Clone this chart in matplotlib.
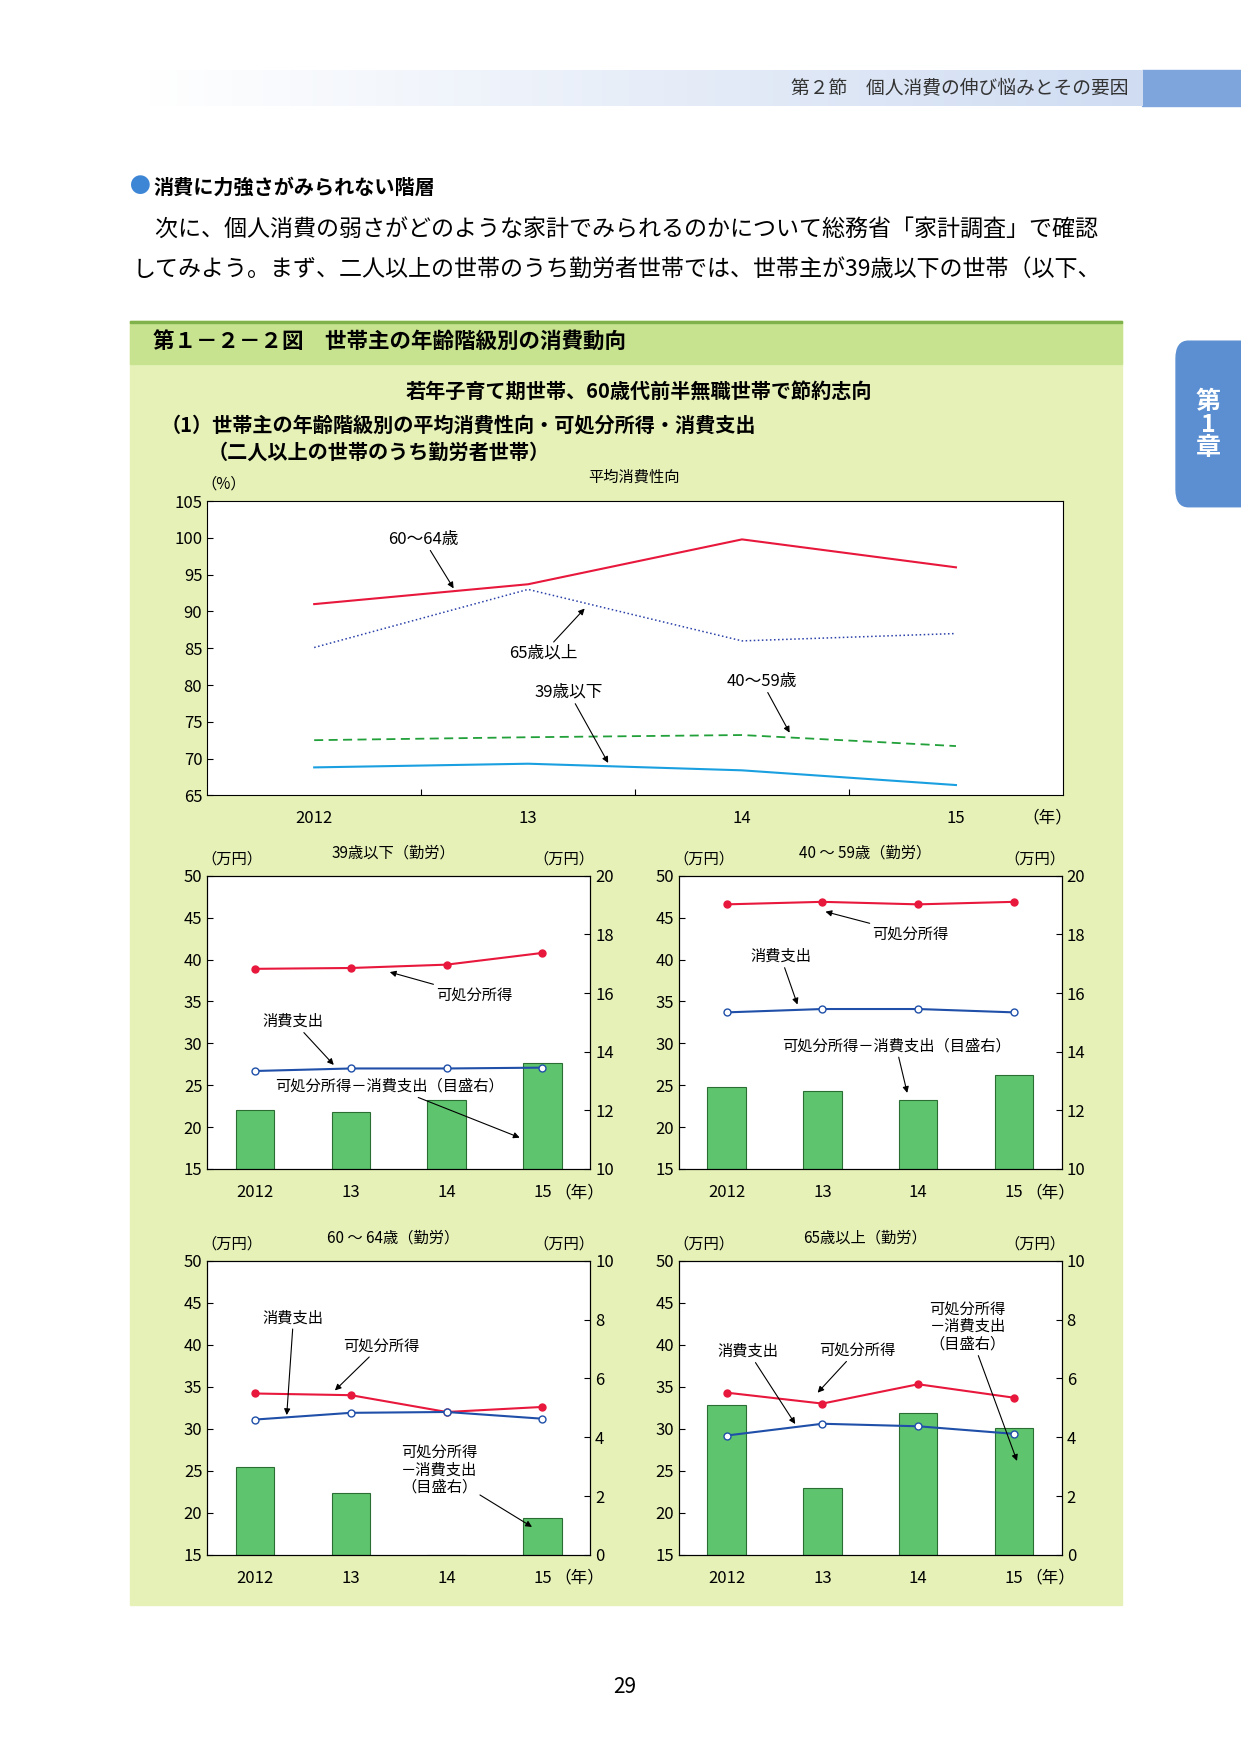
import matplotlib
matplotlib.use("Agg")
import matplotlib.pyplot as plt
from matplotlib.patches import Rectangle, FancyBboxPatch
from matplotlib.colors import LinearSegmentedColormap
import numpy as np

plt.rcParams['font.family'] = ['Noto Sans CJK JP', 'DejaVu Sans']

years = ["2012", "13", "14", "15"]
apc_60_64 = [91.0, 93.7, 99.8, 96.0]
apc_65plus = [85.1, 93.0, 86.0, 87.0]
apc_40_59 = [72.5, 72.9, 73.2, 71.7]
apc_39 = [68.8, 69.3, 68.4, 66.4]

panels = [
    dict(title="39歳以下（勤労）", disp=[38.9, 39.0, 39.4, 40.8], cons=[26.7, 27.0, 27.0, 27.1],
         diff=[12.0, 11.95, 12.37, 13.63], rlim=(10, 20), rticks=[10, 12, 14, 16, 18, 20]),
    dict(title="40 ～ 59歳（勤労）", disp=[46.6, 46.9, 46.6, 46.9], cons=[33.7, 34.1, 34.1, 33.7],
         diff=[12.79, 12.67, 12.37, 13.2], rlim=(10, 20), rticks=[10, 12, 14, 16, 18, 20]),
    dict(title="60 ～ 64歳（勤労）", disp=[34.2, 34.0, 32.0, 32.6], cons=[31.1, 31.9, 32.0, 31.2],
         diff=[3.0, 2.1, 0.0, 1.25], rlim=(0, 10), rticks=[0, 2, 4, 6, 8, 10]),
    dict(title="65歳以上（勤労）", disp=[34.3, 33.0, 35.3, 33.7], cons=[29.2, 30.6, 30.3, 29.4],
         diff=[5.1, 2.28, 4.83, 4.3], rlim=(0, 10), rticks=[0, 2, 4, 6, 8, 10]),
]

W, H = 1108.0, 1568.0
fig = plt.figure(figsize=(12.41, 17.54), dpi=100)

def fx(x): return x / W
def fy(y): return 1 - y / H

def txt(x, y, s, **kw):
    kw.setdefault('ha', 'left'); kw.setdefault('va', 'center')
    fig.text(fx(x), fy(y), s, **kw)

def rect(x0, y0, x1, y1, color):
    fig.add_artist(Rectangle((fx(x0), fy(y1)), fx(x1) - fx(x0), (y1 - y0) / H,
                             transform=fig.transFigure, color=color, zorder=-10))

def ann(s, tx, ty, ax_, ay_, size=11, ha='center'):
    fig.add_artist(plt.matplotlib.text.Annotation(
        s, xy=(fx(ax_), fy(ay_)), xytext=(fx(tx), fy(ty)), xycoords='figure fraction',
        textcoords='figure fraction', ha=ha, va='center', fontsize=size, linespacing=1.05, zorder=10,
        arrowprops=dict(arrowstyle='-|>', color='black', lw=0.8, shrinkA=0, shrinkB=0, mutation_scale=9)))

# header band
grad = np.linspace(0, 1, 256).reshape(1, -1)
hax = fig.add_axes([fx(130), fy(95), fx(1020) - fx(130), (95 - 63) / H])
hax.imshow(grad, aspect='auto', cmap=LinearSegmentedColormap.from_list('g', ['#ffffff', '#cfdcf2']))
hax.axis('off')
rect(1020, 63, 1108, 95, '#7ea6dc')
txt(1008, 79, "第２節　個人消費の伸び悩みとその要因", ha='right', fontsize=13.5, color='#333333')
fig.add_artist(FancyBboxPatch((fx(1050), fy(453)), fx(80), 148 / H, boxstyle='round,pad=0,rounding_size=0.01',
                              transform=fig.transFigure, color='#5b8fd2', zorder=-10))
txt(1079, 380, "第\n1\n章", ha='center', fontsize=18, color='white', weight='bold', linespacing=0.95)

txt(116, 167, "●", fontsize=15, color='#3d86d6')
txt(137, 167, "消費に力強さがみられない階層", fontsize=14.5, weight='bold')
txt(118, 205, "　次に、個人消費の弱さがどのような家計でみられるのかについて総務省「家計調査」で確認", fontsize=16.6)
txt(118, 241, "してみよう。まず、二人以上の世帯のうち勤労者世帯では、世帯主が39歳以下の世帯（以下、", fontsize=16.6)

rect(116, 287, 1002, 1435, '#e6f1b8')
rect(116, 287, 1002, 325, '#c8e390')
rect(116, 287, 1002, 289, '#7fb24a')
txt(137, 306, "第１－２－２図　世帯主の年齢階級別の消費動向", fontsize=15.5, weight='bold')
txt(570, 350, "若年子育て期世帯、60歳代前半無職世帯で節約志向", ha='center', fontsize=14.5, weight='bold')
txt(143, 380, "（1）世帯主の年齢階級別の平均消費性向・可処分所得・消費支出", fontsize=14.5, weight='bold')
txt(185, 404, "（二人以上の世帯のうち勤労者世帯）", fontsize=14.5, weight='bold')
txt(558, 1508, "29", ha='center', fontsize=15)

RED = '#e8173c'; BLUE = '#1f4fa8'

def mkax(x0, y0, x1, y1):
    a = fig.add_axes([fx(x0), fy(y1), fx(x1) - fx(x0), (y1 - y0) / H])
    a.set_facecolor('white')
    return a

# top chart
ax = mkax(185, 448, 949, 711)
x = np.arange(4)
ax.plot(x, apc_60_64, color=RED, lw=1.5)
ax.plot(x, apc_65plus, color='#2a3fa8', lw=1.1, ls=':')
ax.plot(x, apc_40_59, color='#22a03a', lw=1.3, ls=(0, (5, 3)))
ax.plot(x, apc_39, color='#1aa0e0', lw=1.5)
ax.set_xlim(-0.5, 3.5); ax.set_ylim(65, 105)
ax.set_yticks(range(65, 106, 5))
ax.set_xticks([0.5, 1.5, 2.5])
ax.set_xticklabels([])
ax.tick_params(axis='x', length=4, direction='in')
ax.tick_params(axis='y', length=4, direction='in', labelsize=12)
for i, s in enumerate(years):
    ax.text(i, -0.05, s, transform=ax.get_xaxis_transform(), ha='center', va='top', fontsize=12)
txt(935, 731, "（年）", ha='center', fontsize=12)
txt(200, 433, "（%）", ha='center', fontsize=11)
txt(566, 427, "平均消費性向", ha='center', fontsize=11)
ann("60～64歳", 378, 482, 405, 526, 12)
ann("65歳以上", 485, 584, 522, 544, 12)
ann("39歳以下", 508, 619, 543, 682, 12)
ann("40～59歳", 680, 609, 705, 655, 12)

boxes = [(185, 783, 527, 1045), (606, 783, 948, 1045), (185, 1127, 527, 1390), (606, 1127, 948, 1390)]
for p, (x0, y0, x1, y1) in zip(panels, boxes):
    a = mkax(x0, y0, x1, y1)
    r = a.twinx()
    a.set_zorder(r.get_zorder() + 1); a.patch.set_visible(False)
    r.set_facecolor('white'); r.patch.set_visible(True)
    r.bar(x, p['diff'], width=0.4, color='#5fc46e', edgecolor='#2a6e33', lw=0.8)
    r.set_ylim(*p['rlim']); r.set_yticks(p['rticks'])
    a.plot(x, p['disp'], color=RED, lw=1.5, marker='o', ms=5)
    a.plot(x, p['cons'], color=BLUE, lw=1.5, marker='o', ms=5, mfc='white')
    a.set_ylim(15, 50); a.set_yticks(range(15, 51, 5)); a.set_xlim(-0.5, 3.5)
    a.set_xticks([]); r.set_xticks([])
    a.tick_params(axis='y', length=4, direction='in', labelsize=12)
    r.tick_params(axis='y', length=4, direction='in', labelsize=12)
    for i, s in enumerate(years):
        a.text(i, -0.05, s, transform=a.get_xaxis_transform(), ha='center', va='top', fontsize=12)
    txt(x1 - 10, y1 + 21, "（年）", ha='center', fontsize=12)
    txt(x0 + 22, y0 - 15, "（万円）", ha='center', fontsize=11)
    txt(x1 - 24, y0 - 15, "（万円）", ha='center', fontsize=11)
    txt((x0 + x1) / 2 - 5, y0 - 20, p['title'], ha='center', fontsize=11)

ann("可処分所得", 423, 890, 348, 869)
ann("消費支出", 262, 913, 298, 952)
ann("可処分所得－消費支出（目盛右）", 348, 971, 464, 1017)
ann("可処分所得", 813, 835, 737, 815)
ann("消費支出", 697, 855, 712, 898)
ann("可処分所得－消費支出（目盛右）", 800, 935, 810, 977)
ann("消費支出", 262, 1178, 256, 1265)
ann("可処分所得", 340, 1203, 299, 1243)
ann("可処分所得\n－消費支出\n（目盛右）", 392, 1314, 475, 1365)
ann("消費支出", 668, 1208, 710, 1273)
ann("可処分所得", 765, 1207, 730, 1245)
ann("可処分所得\n－消費支出\n（目盛右）", 864, 1186, 908, 1306)

fig.savefig("out.png", dpi=100)
